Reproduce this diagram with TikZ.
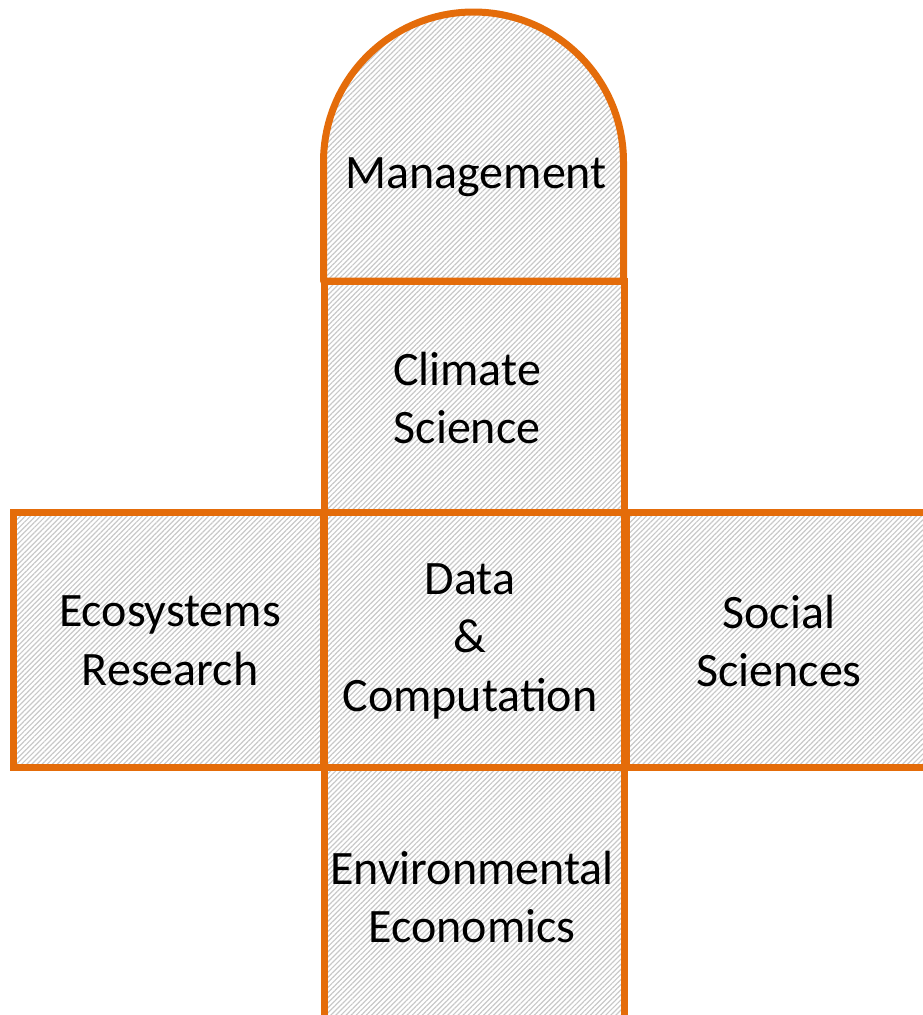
\documentclass[tikz,border=0pt]{standalone}
\usepackage{fontspec}
\setmainfont{Carlito}
\usetikzlibrary{patterns.meta}
\definecolor{edgeorange}{RGB}{228,108,10}
\definecolor{hatchgray}{RGB}{200,200,200}
\tikzset{
  hatched/.style={pattern={Lines[angle=45,distance=3.6pt,line width=1.2pt]},pattern color=hatchgray},
  cell/.style={draw=edgeorange,line width=7pt,hatched,rectangle,inner sep=0pt},
  label/.style={text=black,align=center,font=\fontsize{48}{58.5}\selectfont,inner sep=0pt}
}
\begin{document}
\begin{tikzpicture}[x=1pt,y=-1pt]
\useasboundingbox (0,0) rectangle (923,1015);
% Management (round top)
\draw[hatched,draw=edgeorange,line width=7pt,line join=round]
  (323.5,281) -- (323.5,162) arc[start angle=180,end angle=360,x radius=150,y radius=150]
  -- (623.5,281) -- cycle;
% cells
\node[cell,minimum width=300pt,minimum height=231pt] (climate) at (474.5,396.5) {};
\node[cell,minimum width=310pt,minimum height=255pt] (eco) at (168,639.5) {};
\node[cell,minimum width=306pt,minimum height=255pt] (social) at (779,639.5) {};
\node[cell,minimum width=300pt,minimum height=255pt] (env) at (474.5,894.5) {};
\node[cell,minimum width=300pt,minimum height=255pt] (data) at (474.5,639.5) {};
% labels
\node[label] (mgmttext) at (476,177) {Management};
\node[label] (climatetext) at (467,398) {Climate\\Science};
\node[label] (ecotext) at (170,641) {Ecosystems\\Research};
\node[label] (socialtext) at (779,641) {Social\\Sciences};
\node[label] (datatext) at (470,641) {Data\\\&\\Computation};
\node[label] (envtext) at (472,897) {Environmental\\Economics};
\end{tikzpicture}
\end{document}
